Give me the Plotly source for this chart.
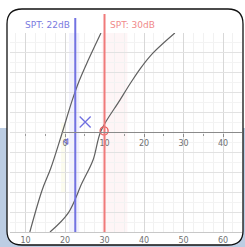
import plotly.graph_objects as go

# ---- data ----
curve1_db = [11.1, 14.2, 16.4, 19.0, 21.8, 23.6, 25.8, 29.1]
curve1_pct = [0, 21, 32, 48, 66, 76, 86, 100]
curve2_db = [16.2, 20.8, 24.3, 27.1, 29.1, 33.9, 36.8, 39.2, 42.3, 47.8]
curve2_pct = [0, 9.5, 24.6, 36.2, 50.8, 66.3, 75.5, 82.5, 90.0, 100]
spt_blue_db = 22.6
spt_red_db = 30
spt_blue_label = "SPT: 22dB"
spt_red_label = "SPT: 30dB"
blue_x_marker = (25.1, 55.3)
blue_lt_marker = (20.4, 45.5)
red_o_marker = (29.9, 50.8)
bottom_ticks = [10, 20, 30, 40, 50, 60]
inner_ticks = [0, 10, 20, 30, 40]
inner_origin_db = 20
mid_pct = 50

W, H = 245, 247
L, R, T, B = 10, 3, 33, 15
PW, PH = W - L - R, H - T - B
X_RANGE = [6.08, 64.8]
Y_RANGE = [0, 100]


def px(xp):
    return (xp - L) / PW


def py(yp):
    return (H - B - yp) / PH


fig = go.Figure()

fig.add_trace(go.Scatter(x=curve1_db, y=curve1_pct, mode="lines",
                         line=dict(color="#606060", width=1.2, shape="spline", smoothing=1.0),
                         showlegend=False, hoverinfo="skip"))
fig.add_trace(go.Scatter(x=curve2_db, y=curve2_pct, mode="lines",
                         line=dict(color="#606060", width=1.2, shape="spline", smoothing=1.0),
                         showlegend=False, hoverinfo="skip"))
fig.add_trace(go.Scatter(x=[blue_x_marker[0]], y=[blue_x_marker[1]], mode="markers",
                         marker=dict(symbol="x-thin-open", size=11, color="#7070e0",
                                     line=dict(width=1.3, color="#7070e0")),
                         showlegend=False, hoverinfo="skip"))
fig.add_trace(go.Scatter(x=[blue_lt_marker[0]], y=[blue_lt_marker[1]], mode="markers",
                         marker=dict(symbol="triangle-left-open", size=5, color="#7070e0",
                                     line=dict(width=1.1, color="#7070e0")),
                         showlegend=False, hoverinfo="skip"))
fig.add_trace(go.Scatter(x=[red_o_marker[0]], y=[red_o_marker[1]], mode="markers",
                         marker=dict(symbol="circle-open", size=8, color="#e85a5a",
                                     line=dict(width=1.3, color="#e85a5a")),
                         showlegend=False, hoverinfo="skip"))
# inner axis carrier trace
fig.add_trace(go.Scatter(x=[inner_ticks[0]], y=[mid_pct], xaxis="x2", mode="markers",
                         marker=dict(opacity=0), showlegend=False, hoverinfo="skip"))

shapes = [
    # blue background
    dict(type="rect", xref="paper", yref="paper", x0=px(0), x1=px(W), y0=py(128), y1=py(H),
         fillcolor="#bccde3", line=dict(width=0), layer="below"),
    # rounded white panel
    dict(type="path", xref="paper", yref="paper", layer="below",
         path=("M {a},{b} L {c},{b} Q {d},{b} {d},{e} L {d},{f} Q {d},{g} {c},{g} "
               "L {a},{g} Q {h},{g} {h},{f} L {h},{e} Q {h},{b} {a},{b} Z").format(
             a=px(22), b=py(9), c=px(228), d=px(243), e=py(24), f=py(231), g=py(245), h=px(7)),
         fillcolor="white", line=dict(color="#111111", width=1.3)),
    # faint bands
    dict(type="rect", xref="x", yref="paper", x0=21.0, x1=23.6, y0=0, y1=1,
         fillcolor="rgba(150,150,240,0.13)", line=dict(width=0), layer="below"),
    dict(type="rect", xref="x", yref="paper", x0=29.3, x1=35.8, y0=0, y1=1,
         fillcolor="rgba(245,160,170,0.10)", line=dict(width=0), layer="below"),
    dict(type="rect", xref="x", yref="paper", x0=19.0, x1=20.0, y0=0.2, y1=0.55,
         fillcolor="rgba(240,240,170,0.2)", line=dict(width=0), layer="below"),
    # SPT lines
    dict(type="line", xref="x", yref="paper", x0=spt_blue_db, x1=spt_blue_db, y0=0, y1=py(18),
         line=dict(color="#7272e2", width=2)),
    dict(type="line", xref="x", yref="paper", x0=spt_red_db, x1=spt_red_db, y0=0, y1=py(14),
         line=dict(color="#f07a7a", width=2)),
    # inner axis line
    dict(type="line", xref="x", yref="y", x0=inner_origin_db - 0.8, x1=X_RANGE[1], y0=mid_pct, y1=mid_pct,
         line=dict(color="#8a8a8a", width=1)),
]

annotations = [
    dict(text=spt_blue_label, xref="x", yref="paper", x=spt_blue_db - 0.9, y=py(25),
         xanchor="right", yanchor="middle", showarrow=False,
         font=dict(family="DejaVu Sans", size=9, color="#7a7ae0")),
    dict(text=spt_red_label, xref="x", yref="paper", x=spt_red_db + 0.8, y=py(25),
         xanchor="left", yanchor="middle", showarrow=False,
         font=dict(family="DejaVu Sans", size=9, color="#f08a8a")),
]

fig.update_layout(
    width=W, height=H,
    margin=dict(l=L, r=R, t=T, b=B, pad=0),
    paper_bgcolor="white", plot_bgcolor="rgba(0,0,0,0)",
    shapes=shapes, annotations=annotations,
    xaxis=dict(range=X_RANGE, tickvals=bottom_ticks, ticks="", showline=True,
               linecolor="#c8c8c8", linewidth=1, showgrid=True, gridcolor="#d8d8d8",
               gridwidth=1, zeroline=False,
               minor=dict(dtick=2.5, tick0=0, showgrid=True, gridcolor="#f1f1f1"),
               tickfont=dict(family="DejaVu Sans", size=8, color="#707070")),
    xaxis2=dict(overlaying="x", anchor="free", position=0.5, side="bottom",
                range=[X_RANGE[0] - inner_origin_db, X_RANGE[1] - inner_origin_db],
                tickvals=inner_ticks, ticks="outside", ticklen=3, tickcolor="#8a8a8a",
                showgrid=False, zeroline=False, showline=False,
                minor=dict(dtick=5, tick0=0, ticks="outside", ticklen=2, tickcolor="#999999"),
                tickfont=dict(family="DejaVu Sans", size=8, color="#707070")),
    yaxis=dict(range=Y_RANGE, showticklabels=False, ticks="", dtick=10,
               showgrid=True, gridcolor="#e2e2e2", zeroline=False, showline=False,
               minor=dict(dtick=5, showgrid=True, gridcolor="#f3f3f3")),
)

fig.write_html("out.html", config={"displayModeBar": False},
               post_script="document.body.style.margin='0';document.body.style.padding='0';document.body.style.overflow='hidden';")
